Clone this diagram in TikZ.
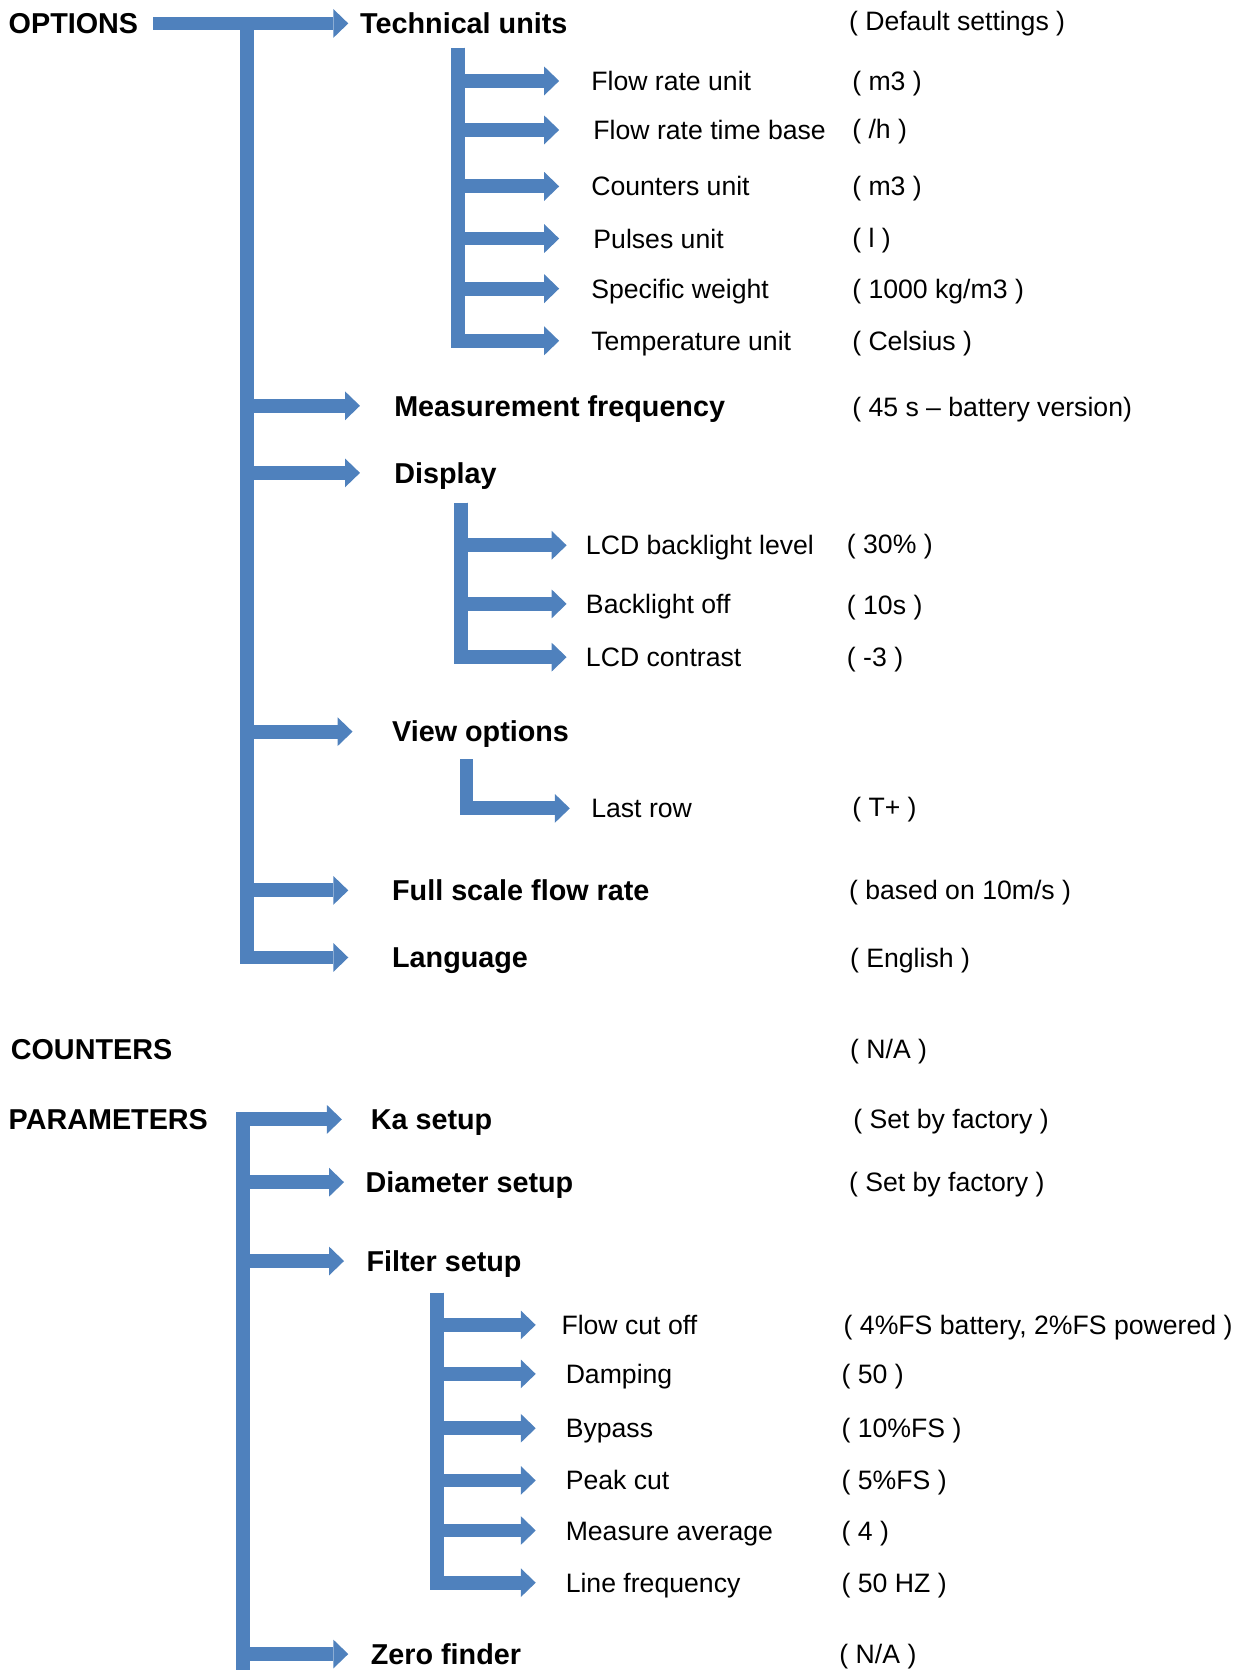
\documentclass[tikz,border=0pt]{standalone}
\usepackage{fontspec}
\setmainfont{Liberation Sans}
\usetikzlibrary{arrows.meta}
\definecolor{barblue}{RGB}{79,129,189}

\begin{document}
\begin{tikzpicture}[x=1pt,y=-1pt,
menunode/.style={anchor=west, inner sep=0pt, text height=19.3pt, text depth=0pt, font=\fontsize{27}{32}\selectfont\bfseries},
itemnode/.style={anchor=west, inner sep=0pt, text height=17.9pt, text depth=0pt, font=\fontsize{25}{30}\selectfont},
branch/.style={draw=barblue, line width=13pt, line join=miter, -{Triangle[length=14pt,width=27pt,line width=0pt]}, shorten >=#1},
branch/.default=0pt,
]
\useasboundingbox (0,0) rectangle (1172,1568);
%Nodes
\node[menunode] at (8,22) (opt) {OPTIONS};
\node[menunode] at (338,22) (tu) {Technical units};
\node[itemnode] at (555,76) (fru) {Flow rate unit};
\node[itemnode] at (557,122) (frtb) {Flow rate time base};
\node[itemnode] at (555,175) (cu) {Counters unit};
\node[itemnode] at (557,224) (pu) {Pulses unit};
\node[itemnode] at (555,271) (sw) {Specific weight};
\node[itemnode] at (555,320) (tempu) {Temperature unit};
\node[menunode] at (370,381) (mf) {Measurement frequency};
\node[menunode] at (370,444) (disp) {Display};
\node[itemnode] at (550,512) (lcdbl) {LCD backlight level};
\node[itemnode] at (550,567) (bloff) {Backlight off};
\node[itemnode] at (550,617) (lcdc) {LCD contrast};
\node[menunode] at (368,687) (vo) {View options};
\node[itemnode] at (555,759) (lr) {Last row};
\node[menunode] at (368,836) (fsfr) {Full scale flow rate};
\node[menunode] at (368,899) (lang) {Language};
\node[menunode] at (10,985) (cnt) {COUNTERS};
\node[menunode] at (8,1051) (par) {PARAMETERS};
\node[menunode] at (348,1051) (ka) {Ka setup};
\node[menunode] at (343,1110) (dia) {Diameter setup};
\node[menunode] at (344,1184) (fil) {Filter setup};
\node[itemnode] at (527,1244) (fco) {Flow cut off};
\node[itemnode] at (531,1290) (damp) {Damping};
\node[itemnode] at (531,1341) (byp) {Bypass};
\node[itemnode] at (531,1390) (pc) {Peak cut};
\node[itemnode] at (531,1437) (ma) {Measure average};
\node[itemnode] at (531,1486) (lf) {Line frequency};
\node[menunode] at (348,1553) (zf) {Zero finder};
%Defaults
\node[itemnode] at (797,20) (defs) {( Default settings )};
\node[itemnode] at (800,76) (fruv) {( m3 )};
\node[itemnode] at (800,121) (frtbv) {( /h )};
\node[itemnode] at (800,175) (cuv) {( m3 )};
\node[itemnode] at (800,223) (puv) {( l )};
\node[itemnode] at (800,271) (swv) {( 1000 kg/m3 )};
\node[itemnode] at (800,320) (tempuv) {( Celsius )};
\node[itemnode] at (800,382) (mfv) {( 45 s – battery version)};
\node[itemnode] at (795,511) (lcdblv) {( 30\% )};
\node[itemnode] at (795,568) (bloffv) {( 10s )};
\node[itemnode] at (795,617) (lcdcv) {( -3 )};
\node[itemnode] at (800,758) (lrv) {( T+ )};
\node[itemnode] at (797,836) (fsfrv) {( based on 10m/s )};
\node[itemnode] at (798,899) (langv) {( English )};
\node[itemnode] at (798,985) (cntv) {( N/A )};
\node[itemnode] at (801,1051) (kav) {( Set by factory )};
\node[itemnode] at (797,1110) (diav) {( Set by factory )};
\node[itemnode] at (792,1244) (fcov) {( 4\%FS battery, 2\%FS powered )};
\node[itemnode] at (790,1290) (dampv) {( 50 )};
\node[itemnode] at (790,1341) (bypv) {( 10\%FS )};
\node[itemnode] at (790,1390) (pcv) {( 5\%FS )};
\node[itemnode] at (790,1437) (mav) {( 4 )};
\node[itemnode] at (790,1486) (lfv) {( 50 HZ )};
\node[itemnode] at (788,1553) (zfv) {( N/A )};
%Bars
\coordinate (obar) at (232,22);
\coordinate (tubar) at (430,45);
\coordinate (dbar) at (433,472);
\coordinate (vbar) at (438,713);
\coordinate (pbot) at (228,1568);
\coordinate (fbar) at (410,1214);
%Lines
\draw[branch=11pt, shorten <=14pt] (opt) -- (tu);
\draw[branch=30pt] (tubar) |- (fru);
\draw[branch=32pt] (tubar) |- (frtb);
\draw[branch=30pt] (tubar) |- (cu);
\draw[branch=32pt] (tubar) |- (pu);
\draw[branch=30pt] (tubar) |- (sw);
\draw[branch=30pt] (tubar) |- (tempu);
\draw[branch=32pt] (obar) |- (mf);
\draw[branch=32pt] (obar) |- (disp);
\draw[branch=18pt] (dbar) |- (lcdbl);
\draw[branch=18pt] (dbar) |- (bloff);
\draw[branch=18pt] (dbar) |- (lcdc);
\draw[branch=37pt] (obar) |- (vo);
\draw[branch=20pt] (vbar) |- (lr);
\draw[branch=41pt] (obar) |- (fsfr);
\draw[branch=41pt] (obar) |- (lang);
\draw[branch=27pt] (pbot) |- (ka);
\draw[branch=20pt] (pbot) |- (dia);
\draw[branch=21pt] (pbot) |- (fil);
\draw[branch=24pt] (fbar) |- (fco);
\draw[branch=28pt] (fbar) |- (damp);
\draw[branch=28pt] (fbar) |- (byp);
\draw[branch=28pt] (fbar) |- (pc);
\draw[branch=28pt] (fbar) |- (ma);
\draw[branch=28pt] (fbar) |- (lf);
\draw[branch=21pt] (pbot) |- (zf);
\end{tikzpicture}
\end{document}
